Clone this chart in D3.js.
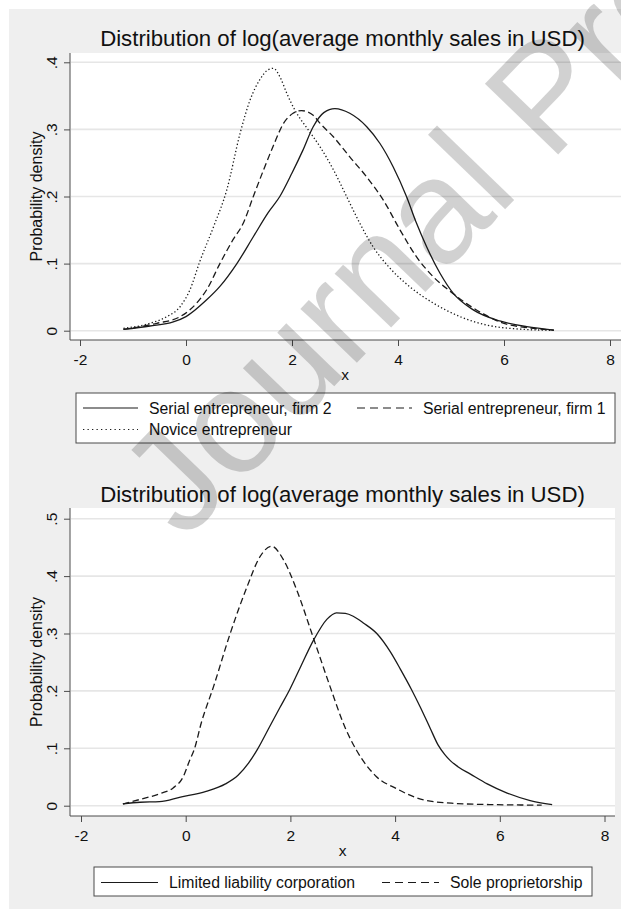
<!DOCTYPE html>
<html>
<head>
<meta charset="utf-8">
<script src="https://cdn.jsdelivr.net/npm/d3@7"></script>
<style>
  html, body { margin: 0; padding: 0; background: #ffffff; }
  svg { display: block; }
  text { font-family: "Liberation Sans", Arial, sans-serif; fill: #111; }
</style>
</head>
<body>
<svg id="chart" width="621" height="909"></svg>
<script>
// ---- data: kernel density estimates of log(average monthly sales in USD) ----
const titleText = "Distribution of log(average monthly sales in USD)";
const yTitle = "Probability density";
const xTitle = "x";
const xTickValues = [-2, 0, 2, 4, 6, 8];
const xTickLabels = ["-2", "0", "2", "4", "6", "8"];
const topYTickValues = [0, 0.1, 0.2, 0.3, 0.4];
const topYTickLabels = ["0", ".1", ".2", ".3", ".4"];
const bottomYTickValues = [0, 0.1, 0.2, 0.3, 0.4, 0.5];
const bottomYTickLabels = ["0", ".1", ".2", ".3", ".4", ".5"];

// Panel 1: serial vs novice entrepreneurs
const serialFirm2 = [
  [-1.18, 0.002], [-0.68, 0.007], [-0.24, 0.013], [0.0, 0.021], [0.39, 0.046],
  [0.64, 0.066], [0.96, 0.100], [1.27, 0.140], [1.55, 0.176], [1.77, 0.200],
  [2.0, 0.235], [2.20, 0.268], [2.40, 0.304], [2.60, 0.325], [2.81, 0.331],
  [3.09, 0.324], [3.41, 0.304], [3.66, 0.279], [3.91, 0.244], [4.16, 0.200],
  [4.35, 0.160], [4.54, 0.125], [4.79, 0.086], [5.04, 0.056], [5.42, 0.031],
  [5.92, 0.0145], [6.43, 0.006], [6.94, 0.001]
];
const serialFirm1 = [
  [-1.18, 0.002], [-0.55, 0.011], [-0.11, 0.021], [0.20, 0.041], [0.39, 0.061],
  [0.64, 0.100], [0.89, 0.136], [1.08, 0.160], [1.27, 0.200], [1.46, 0.239],
  [1.65, 0.276], [1.84, 0.309], [2.02, 0.324], [2.18, 0.328], [2.40, 0.321],
  [2.53, 0.309], [2.78, 0.289], [3.09, 0.259], [3.41, 0.229], [3.72, 0.195],
  [4.04, 0.150], [4.35, 0.110], [4.67, 0.080], [4.98, 0.059], [5.30, 0.040],
  [5.61, 0.025], [5.92, 0.013], [6.43, 0.0045], [6.94, 0.001]
];
const noviceEntrepreneur = [
  [-1.18, 0.0035], [-0.68, 0.011], [-0.36, 0.021], [-0.11, 0.036], [0.075, 0.061],
  [0.26, 0.103], [0.52, 0.155], [0.77, 0.210], [1.02, 0.294], [1.21, 0.344],
  [1.40, 0.375], [1.55, 0.389], [1.65, 0.391], [1.78, 0.377], [1.90, 0.354],
  [2.06, 0.328], [2.30, 0.300], [2.53, 0.274], [2.78, 0.240], [3.03, 0.200],
  [3.28, 0.160], [3.53, 0.125], [3.85, 0.093], [4.23, 0.065], [4.67, 0.041],
  [5.17, 0.021], [5.67, 0.0085], [6.18, 0.003], [6.94, 0.0005]
];

// Panel 2: legal form of the firm
const limitedLiability = [
  [-1.20, 0.003], [-0.87, 0.006], [-0.50, 0.007], [-0.10, 0.015], [0.39, 0.025],
  [0.76, 0.038], [1.0, 0.053], [1.2, 0.074], [1.37, 0.098], [1.6, 0.137],
  [1.8, 0.171], [1.99, 0.203], [2.2, 0.243], [2.44, 0.288], [2.70, 0.325],
  [2.88, 0.336], [3.05, 0.335], [3.20, 0.330], [3.40, 0.318], [3.65, 0.300],
  [3.91, 0.268], [4.10, 0.238], [4.31, 0.203], [4.48, 0.172], [4.67, 0.135],
  [4.82, 0.106], [4.95, 0.089], [5.05, 0.079], [5.20, 0.068], [5.44, 0.055],
  [5.76, 0.038], [6.14, 0.022], [6.58, 0.009], [7.00, 0.002]
];
const soleProprietorship = [
  [-1.20, 0.003], [-0.87, 0.011], [-0.49, 0.021], [-0.24, 0.031], [-0.05, 0.050],
  [0.08, 0.080], [0.16, 0.097], [0.30, 0.145], [0.53, 0.207], [0.85, 0.300],
  [1.17, 0.381], [1.42, 0.434], [1.64, 0.452], [1.87, 0.428], [2.12, 0.376],
  [2.44, 0.292], [2.76, 0.207], [3.05, 0.135], [3.26, 0.097], [3.64, 0.051],
  [4.02, 0.030], [4.55, 0.010], [5.14, 0.004], [5.80, 0.002], [6.80, 0.001]
];

const topLegend = [
  { label: "Serial entrepreneur, firm 2", style: "solid" },
  { label: "Serial entrepreneur, firm 1", style: "dashed" },
  { label: "Novice entrepreneur", style: "dotted" }
];
const bottomLegend = [
  { label: "Limited liability corporation", style: "solid" },
  { label: "Sole proprietorship", style: "dashed" }
];

// ---- styles ----
const INK = "#1a1a1a";
const AXIS = "#4a4a4a";
const GRID = "#e6e6e6";
const FONT = '"Liberation Sans", Arial, sans-serif';
const dash = { solid: null, dashed: "6.5,3.5", dotted: "1.3,2.3" };
const keyDash = { solid: null, dashed: "8,5", dotted: "1.3,3.2" };

const svg = d3.select("#chart");

// graph region background
svg.append("rect").attr("x", 9).attr("y", 9).attr("width", 612).attr("height", 900)
  .attr("fill", "#efefef");

function drawPanel(cfg) {
  const g = svg.append("g");
  const x = d3.scaleLinear().domain([-2, 8]).range(cfg.xRange);
  const y = d3.scaleLinear().domain([0, cfg.yMax]).range(cfg.yRange);

  // plot region
  g.append("rect").attr("x", cfg.plot.left).attr("y", cfg.plot.top)
    .attr("width", cfg.plot.right - cfg.plot.left)
    .attr("height", cfg.plot.bottom - cfg.plot.top)
    .attr("fill", "#ffffff");

  // grid lines
  g.selectAll(".grid").data(cfg.yTicks).join("line")
    .attr("x1", cfg.plot.left + 1).attr("x2", cfg.plot.right)
    .attr("y1", d => y(d)).attr("y2", d => y(d))
    .attr("stroke", GRID).attr("stroke-width", 1.6);

  // y axis
  const yAxis = g.append("g").attr("transform", `translate(${cfg.plot.left},0)`)
    .call(d3.axisLeft(y).tickValues(cfg.yTicks).tickSize(6)
      .tickFormat((d, i) => cfg.yLabels[i]).tickSizeOuter(0));
  yAxis.select(".domain").attr("stroke", AXIS).attr("d", `M0,${cfg.plot.top}V${cfg.plot.bottom}`);
  yAxis.selectAll(".tick line").attr("stroke", AXIS);
  yAxis.selectAll(".tick text")
    .attr("x", null).attr("dy", null)
    .attr("transform", "translate(-13,0) rotate(-90)")
    .attr("text-anchor", "middle")
    .attr("font-size", 15.5).attr("fill", "#111")
    .style("font-family", FONT);

  // x axis
  const xAxis = g.append("g").attr("transform", `translate(0,${cfg.plot.bottom})`)
    .call(d3.axisBottom(x).tickValues(xTickValues).tickSize(6)
      .tickFormat((d, i) => xTickLabels[i]).tickSizeOuter(0));
  xAxis.select(".domain").attr("stroke", AXIS).attr("d", `M${cfg.plot.left},0H${cfg.plot.right}`);
  xAxis.selectAll(".tick line").attr("stroke", AXIS);
  xAxis.selectAll(".tick text")
    .attr("y", 25).attr("dy", null)
    .attr("font-size", 15.5).attr("fill", "#111")
    .style("font-family", FONT);

  // titles
  g.append("text").attr("x", 342.5).attr("y", cfg.titleY)
    .attr("text-anchor", "middle").attr("font-size", 22.2).text(titleText);
  g.append("text").attr("x", cfg.xTitleX).attr("y", cfg.plot.bottom + 40)
    .attr("text-anchor", "middle").attr("font-size", 15.5).text(xTitle);
  g.append("text")
    .attr("transform", `translate(41.5,${(cfg.plot.top + cfg.plot.bottom) / 2}) rotate(-90)`)
    .attr("text-anchor", "middle").attr("font-size", 16).text(yTitle);

  // density curves
  const line = d3.line().x(d => x(d[0])).y(d => y(d[1])).curve(d3.curveMonotoneX);
  cfg.series.forEach(s => {
    g.append("path").datum(s.data)
      .attr("d", line).attr("fill", "none")
      .attr("stroke", INK).attr("stroke-width", 1.3)
      .attr("stroke-dasharray", dash[s.style]);
  });

  // legend
  const L = cfg.legend;
  g.append("rect").attr("x", L.left).attr("y", L.top)
    .attr("width", L.right - L.left).attr("height", L.bottom - L.top)
    .attr("fill", "#ffffff").attr("stroke", AXIS).attr("stroke-width", 1);
  L.items.forEach((it, i) => {
    const col = i % L.cols, row = Math.floor(i / L.cols);
    const kx = L.keyX[col], base = L.baseY + row * L.rowGap;
    g.append("line").attr("x1", kx).attr("x2", kx + L.keyW)
      .attr("y1", base - 5.5).attr("y2", base - 5.5)
      .attr("stroke", INK).attr("stroke-width", 1.2)
      .attr("stroke-dasharray", keyDash[it.style]);
    g.append("text").attr("x", kx + L.keyW + L.textGap).attr("y", base)
      .attr("font-size", 15.8).text(it.label);
  });
}

drawPanel({
  xRange: [80, 610], yMax: 0.4, yRange: [330.7, 62.3],
  plot: { left: 70, right: 621, top: 53, bottom: 340 }, xTitleX: 345,
  yTicks: topYTickValues, yLabels: topYTickLabels, titleY: 46,
  series: [
    { data: serialFirm2, style: "solid" },
    { data: serialFirm1, style: "dashed" },
    { data: noviceEntrepreneur, style: "dotted" }
  ],
  legend: { left: 76, right: 615, top: 393, bottom: 443, cols: 2,
            keyX: [83, 357], keyW: 55, textGap: 11, baseY: 413.5, rowGap: 21.5,
            items: topLegend }
});

drawPanel({
  xRange: [81, 604.5], yMax: 0.5, yRange: [805.7, 518.7],
  plot: { left: 70, right: 615, top: 508, bottom: 816 }, xTitleX: 342.5,
  yTicks: bottomYTickValues, yLabels: bottomYTickLabels, titleY: 501.7,
  series: [
    { data: limitedLiability, style: "solid" },
    { data: soleProprietorship, style: "dashed" }
  ],
  legend: { left: 94, right: 592, top: 867, bottom: 896, cols: 2,
            keyX: [101, 382], keyW: 57, textGap: 11, baseY: 888, rowGap: 21.5,
            items: bottomLegend }
});

// diagonal watermark across the page
svg.append("text")
  .attr("transform", "translate(184,542) rotate(-46)")
  .attr("font-size", 148)
  .style("fill", "#000").style("fill-opacity", 0.18)
  .text("Journal Pre");
</script>
</body>
</html>
